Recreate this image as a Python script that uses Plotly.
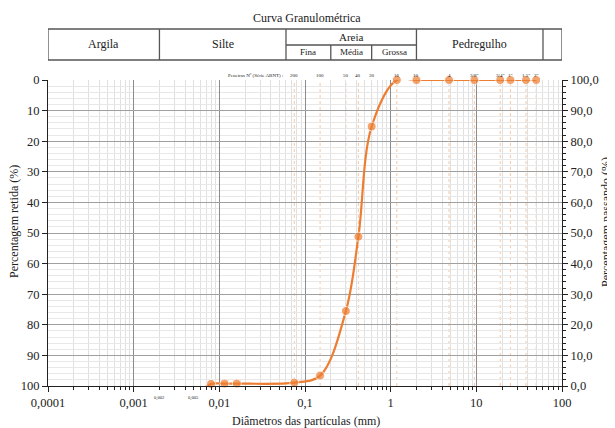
import math
import plotly.graph_objects as go

# ---------------- data ----------------
diam_mm = [0.0065, 0.008, 0.0115, 0.016, 0.075, 0.15, 0.3, 0.42, 0.6, 1.18, 2.0, 4.8, 9.5, 19, 25, 38, 50]
passing_pct = [-1.0, 0.7, 0.8, 0.8, 1.1, 3.4, 24.5, 48.8, 84.8, 100, 100, 100, 100, 100, 100, 100, 100]
show_marker = [0, 1, 1, 1, 1, 1, 1, 1, 1, 1, 1, 1, 1, 1, 1, 1, 1]

sieve_sizes = [0.075, 0.15, 0.3, 0.42, 0.6, 1.18, 2.0, 4.8, 9.5, 19, 25, 38, 50]
sieve_labels = ["200", "100", "50", "40", "30", "16", "10", "4", '3/8"', '3/4"', '1"', '1.5"', '2"']

x_tick_vals = [0.0001, 0.001, 0.01, 0.1, 1, 10, 100]
x_tick_text = ["0,0001", "0,001", "0,01", "0,1", "1", "10", "100"]
left_tick_vals = list(range(0, 101, 10))
left_tick_text = [str(v) for v in left_tick_vals]
right_tick_vals = list(range(0, 101, 10))
right_tick_text = [f"{v},0" for v in right_tick_vals]

# soil classification bands (mm) for header table
band_edges = [0.0001, 0.002, 0.06, 2.0, 60, 100]
band_names = ["Argila", "Silte", "Areia", "Pedregulho", ""]
sand_edges = [0.06, 0.2, 0.6, 2.0]
sand_names = ["Fina", "Média", "Grossa"]
small_marks = [0.002, 0.005]
small_mark_text = ["0,002", "0,005"]

# ---------------- layout helpers ----------------
W, H = 615, 428          # browser window
OFF = 8                  # default page body margin
PL, PR, PT, PB = 48, 562, 80, 386   # plot area in page pixels
PH = PB - PT
PW = PR - PL


def py(pix):
    return (PB - pix) / PH


def px(pix):
    return (pix - PL) / PW


FONT = "Liberation Serif"
ORANGE = "#ED7D31"
TXT = "#222222"
TICK = 12.5

fig = go.Figure()

# invisible companion trace so that the left (retained) axis is drawn
fig.add_trace(go.Scatter(
    x=diam_mm, y=[100 - p for p in passing_pct], yaxis="y",
    mode="lines", line=dict(width=0, color="rgba(0,0,0,0)"),
    showlegend=False, hoverinfo="skip",
))

fig.add_trace(go.Scatter(
    x=diam_mm, y=passing_pct, yaxis="y2",
    mode="lines+markers",
    line=dict(color=ORANGE, width=2.2, shape="spline", smoothing=1),
    marker=dict(color=ORANGE, size=[9 * s for s in show_marker]),
    cliponaxis=False, showlegend=False, hoverinfo="x+y",
))

shapes = []
# dashed sieve lines
for s in sieve_sizes:
    shapes.append(dict(type="line", xref="x", yref="paper", x0=s, x1=s, y0=0, y1=1,
                       line=dict(color="#F7C6A3", width=1, dash="3px,3px"), layer="below"))

# header table
ytop, ymid, ybot = py(29), py(45), py(60)
lc = dict(color="#555555", width=1.3)
shapes.append(dict(type="line", xref="x", yref="paper", x0=band_edges[0], x1=band_edges[-1], y0=ytop, y1=ytop, line=lc))
shapes.append(dict(type="line", xref="x", yref="paper", x0=band_edges[0], x1=band_edges[-1], y0=ybot, y1=ybot, line=lc))
for e in band_edges:
    shapes.append(dict(type="line", xref="x", yref="paper", x0=e, x1=e, y0=ybot, y1=ytop, line=lc))
shapes.append(dict(type="line", xref="x", yref="paper", x0=sand_edges[0], x1=sand_edges[-1], y0=ymid, y1=ymid, line=lc))
for e in sand_edges[1:-1]:
    shapes.append(dict(type="line", xref="x", yref="paper", x0=e, x1=e, y0=ybot, y1=ymid, line=lc))

annotations = []


def note(x, y, text, size, xref="paper", angle=0, xanchor="center"):
    annotations.append(dict(x=x, y=y, xref=xref, yref="paper", text=text, showarrow=False,
                            xanchor=xanchor, yanchor="middle", textangle=angle,
                            font=dict(family=FONT, size=size, color=TXT)))


for i, name in enumerate(band_names):
    if not name:
        continue
    xm = (math.log10(band_edges[i]) + math.log10(band_edges[i + 1])) / 2
    if name == "Areia":
        note(xm, (ytop + ymid) / 2, name, 11, xref="x")
    else:
        note(xm, (ytop + ybot) / 2, name, 12, xref="x")
for i, name in enumerate(sand_names):
    xm = (math.log10(sand_edges[i]) + math.log10(sand_edges[i + 1])) / 2
    note(xm, (ymid + ybot) / 2, name, 9, xref="x")

note(px(307), py(18), "Curva Granulométrica", 12)

for s, lab in zip(sieve_sizes, sieve_labels):
    note(math.log10(s), py(75), lab, 5, xref="x")
note(math.log10(0.058), py(75), "Peneiras Nº (Série ABNT) :", 5, xref="x", xanchor="right")
for s, lab in zip(small_marks, small_mark_text):
    note(math.log10(s), py(398), lab, 4.5, xref="x")

note(px(14), py(222), "Percentagem retida (%)", 12, angle=-90)
note(px(606), py(222), "Percentagem passando (%)", 12, angle=-90)
note(px(306), py(421), "Diâmetros das partículas (mm)", 12)

minor_x = [k * 10 ** e for e in range(-4, 2) for k in range(2, 10)]

fig.update_layout(
    width=W - OFF, height=H - OFF,
    margin=dict(l=PL - OFF, r=W - PR, t=PT - OFF, b=H - PB),
    paper_bgcolor="white", plot_bgcolor="white",
    font=dict(family=FONT, size=11, color=TXT),
    shapes=shapes, annotations=annotations,
    xaxis=dict(type="log", range=[-4, 2], tickvals=x_tick_vals, ticktext=x_tick_text,
               showgrid=True, gridcolor="#8c8c8c", gridwidth=1,
               showline=True, linecolor=TXT, linewidth=1,
               ticks="outside", ticklen=5, tickcolor=TXT,
               tickfont=dict(family=FONT, size=TICK, color=TXT),
               minor=dict(tickvals=minor_x, showgrid=True, gridcolor="#e0e0e0",
                          ticks="outside", ticklen=3, tickcolor=TXT),
               zeroline=False),
    yaxis=dict(range=[100, 0], tickvals=left_tick_vals, ticktext=left_tick_text,
               showgrid=True, gridcolor="#a0a0a0", gridwidth=1,
               showline=True, linecolor=TXT, linewidth=1,
               ticks="outside", ticklen=5, tickcolor=TXT,
               tickfont=dict(family=FONT, size=TICK, color=TXT),
               minor=dict(dtick=2, tick0=0, showgrid=True, gridcolor="#e8e8e8"),
               zeroline=False),
    yaxis2=dict(range=[0, 100], overlaying="y", side="right",
                tickvals=right_tick_vals, ticktext=right_tick_text,
                showgrid=False, showline=True, linecolor=TXT, linewidth=1,
                ticks="outside", ticklen=5, tickcolor=TXT,
                tickfont=dict(family=FONT, size=TICK, color=TXT),
                minor=dict(dtick=2, tick0=0, ticks="outside", ticklen=3, tickcolor=TXT),
                zeroline=False),
)

fig.write_html("out.html")
